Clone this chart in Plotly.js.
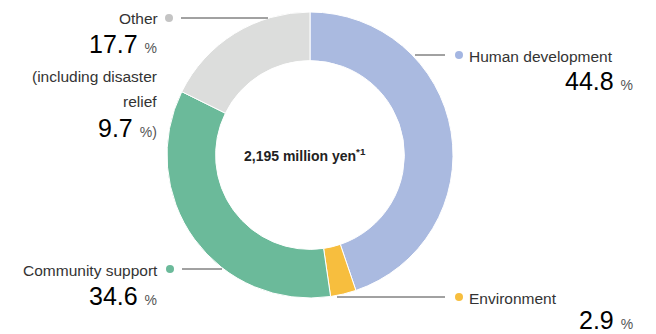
<!DOCTYPE html>
<html><head><meta charset="utf-8">
<script src="https://cdn.plot.ly/plotly-3.0.1.min.js"></script>
<style>html,body{margin:0;padding:0;background:#fff}#chart{width:656px;height:334px}</style>
</head><body><div id="chart"></div>
<script>
const categories = ["Human development", "Environment", "Community support", "Other"];
const shares = [44.8, 2.9, 34.6, 17.7];
const disasterRelief = 9.7;
const totalLabel = "2,195 million yen";
const colors = ["#AABAE0", "#F7BE3E", "#6BBA9A", "#DCDDDC"];
const dotColors = ["#A4B6E2", "#F7BE3E", "#6BBA9A", "#C4C4C4"];

const W = 656, H = 334;
const px = x => x / W;
const py = y => 1 - y / H;
const FONT = "Liberation Sans, Arial, sans-serif";

const cx = 310, cy = 155, R = 143;

const trace = {
  type: "pie",
  values: shares,
  labels: categories,
  sort: false,
  direction: "clockwise",
  rotation: 0,
  hole: 0.66,
  textinfo: "none",
  hoverinfo: "none",
  marker: {colors: colors, line: {color: "#ffffff", width: 1}},
  domain: {x: [px(cx - R), px(cx + R)], y: [py(cy + R), py(cy - R)]},
  showlegend: false
};

function pct(v, extra) {
  return v.toFixed(1) + ' <span style="font-size:14px;color:#555">%' + (extra || '') + '</span>';
}

const lab = (text, x, y, anchor, size, color) => ({
  text: text, x: px(x), y: py(y), xref: "paper", yref: "paper",
  xanchor: anchor, yanchor: "middle", showarrow: false,
  font: {family: FONT, size: size, color: color}
});

const annotations = [
  lab(categories[3], 160, 19, "right", 15.5, "#333"),
  lab(pct(shares[3]), 159, 44, "right", 25, "#000"),
  lab("(including disaster", 159, 76, "right", 15.5, "#333"),
  lab("relief", 159, 101, "right", 15.5, "#333"),
  lab(pct(disasterRelief, ")"), 159, 128, "right", 25, "#000"),
  lab(categories[2], 160, 270, "right", 15.5, "#333"),
  lab(pct(shares[2]), 159, 296, "right", 25, "#000"),
  lab(categories[0], 467, 57, "left", 15.5, "#333"),
  lab(pct(shares[0]), 635, 81, "right", 25, "#000"),
  lab(categories[1], 467, 298, "left", 15.5, "#333"),
  lab(pct(shares[1]), 635, 320, "right", 25, "#000"),
  lab("<b>" + totalLabel + '<sup style="font-size:9px">*1</sup></b>', 305, 155, "center", 14, "#222")
];

const line = (x0, y0, x1, y1) => ({type: "line", xref: "paper", yref: "paper",
  x0: px(x0), y0: py(y0), x1: px(x1), y1: py(y1), line: {color: "#444", width: 1}});
const dot = (x, y, c) => ({type: "circle", xref: "paper", yref: "paper",
  x0: px(x - 4), x1: px(x + 4), y0: py(y + 4), y1: py(y - 4),
  fillcolor: c, line: {width: 0}});

const shapes = [
  line(181, 18, 268, 18), dot(169, 18, dotColors[3]),
  line(415, 55, 445, 55), dot(459, 55, dotColors[0]),
  line(182, 269, 222, 269), dot(170, 269, dotColors[2]),
  line(337, 297, 445, 297), dot(459, 297, dotColors[1])
];

Plotly.newPlot("chart", [trace], {
  width: W, height: H,
  margin: {l: 0, r: 0, t: 0, b: 0},
  paper_bgcolor: "#fff",
  font: {family: FONT},
  annotations: annotations,
  shapes: shapes,
  showlegend: false
}, {staticPlot: true, displayModeBar: false});
</script></body></html>
